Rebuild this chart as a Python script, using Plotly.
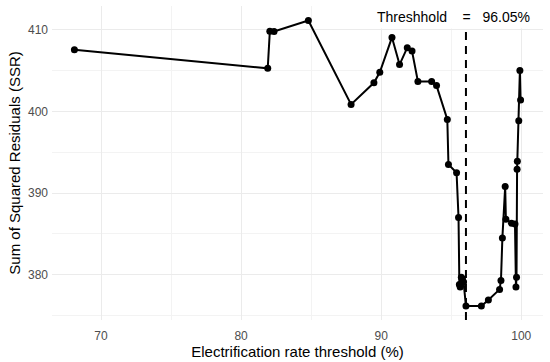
import plotly.graph_objects as go

threshold_pct = [68.1, 81.9, 82.05, 82.35, 84.8, 87.85, 89.48, 89.9, 90.77, 91.31,
                 91.86, 92.2, 92.62, 93.6, 93.95, 94.72, 94.8, 95.38, 95.52, 95.58,
                 95.64, 95.72, 95.8, 95.88, 96.05, 97.15, 97.65, 98.45, 98.55, 98.65,
                 98.85, 98.9, 99.3, 99.55, 99.62, 99.66, 99.7, 99.72, 99.82, 99.9, 99.95]
ssr = [407.55, 405.27, 409.8, 409.78, 411.12, 400.85, 403.5, 404.78, 409.05, 405.73,
       407.8, 407.38, 403.65, 403.65, 403.15, 399.0, 393.5, 392.48, 387.0, 378.8,
       378.5, 379.7, 379.5, 379.1, 376.15, 376.15, 376.9, 378.2, 379.3, 384.5,
       390.8, 386.8, 386.3, 386.2, 378.5, 379.7, 392.9, 393.9, 398.85, 405.0, 401.4]
best_threshold = 96.05
x_ticks = [70, 80, 90, 100]
y_ticks = [380, 390, 400, 410]

FONT = "Liberation Sans, Arial, sans-serif"

fig = go.Figure()
fig.add_trace(go.Scatter(
    x=threshold_pct, y=ssr, mode="lines+markers",
    line=dict(color="black", width=2),
    marker=dict(color="black", size=7),
    showlegend=False, hoverinfo="x+y"))

fig.add_vline(x=best_threshold, line=dict(color="black", width=2, dash="8px,6px"))

nb = "\u00a0"
fig.add_annotation(
    x=95.14, y=411.5, xref="x", yref="y",
    text=f"Threshhold{nb*4}={nb*3}{best_threshold:.2f}%",
    showarrow=False, font=dict(family=FONT, size=14, color="black"),
    bgcolor="white", borderpad=3,
    xanchor="center", yanchor="middle")

grid_major = "#ebebeb"
grid_minor = "#f3f3f3"

fig.update_layout(
    width=550, height=362,
    margin=dict(l=52, r=7, t=6, b=42),
    paper_bgcolor="white", plot_bgcolor="white",
    font=dict(family=FONT, color="#4d4d4d"),
    hovermode="closest",
    xaxis=dict(
        range=[66.5, 101.55], tickvals=x_ticks, ticktext=[str(v) for v in x_ticks],
        showgrid=True, gridcolor=grid_major, gridwidth=1,
        minor=dict(dtick=5, tick0=65, showgrid=True, gridcolor=grid_minor, gridwidth=0.7),
        zeroline=False, showline=False, ticks="",
        tickfont=dict(family=FONT, size=12, color="#4d4d4d"),
        ticklabelstandoff=7,
        title=dict(text="Electrification rate threshold (%)",
                   font=dict(family=FONT, size=15, color="black"), standoff=0),
    ),
    yaxis=dict(
        range=[374.45, 412.9], tickvals=y_ticks, ticktext=[str(v) for v in y_ticks],
        showgrid=True, gridcolor=grid_major, gridwidth=1,
        minor=dict(dtick=5, tick0=375, showgrid=True, gridcolor=grid_minor, gridwidth=0.7),
        zeroline=False, showline=False, ticks="",
        tickfont=dict(family=FONT, size=12, color="#4d4d4d"),
        ticklabelstandoff=3,
        title=dict(text="Sum of Squared Residuals (SSR)",
                   font=dict(family=FONT, size=15, color="black"), standoff=3),
    ),
)

fig.write_html("out.html", config={"displayModeBar": False},
               post_script="document.body.style.margin='0';")
